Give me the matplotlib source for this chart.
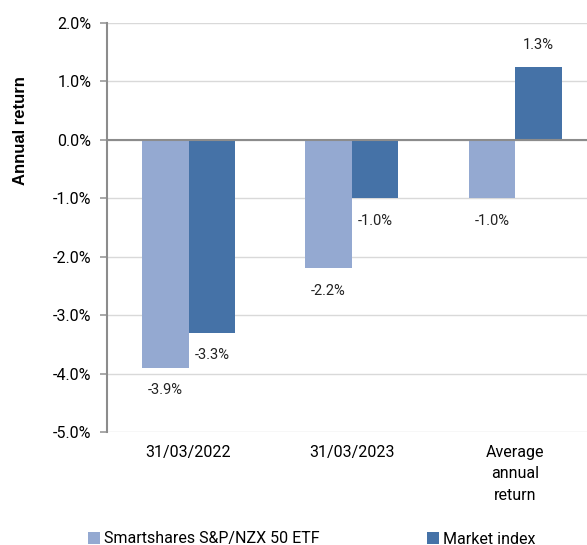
import matplotlib
matplotlib.use('Agg')
import matplotlib.pyplot as plt
import numpy as np

plt.rcParams['font.family'] = ['Roboto', 'DejaVu Sans']

categories = ['31/03/2022', '31/03/2023', 'Average\nannual\nreturn']
etf_values = [-3.9, -2.2, -1.0]
index_values = [-3.3, -1.0, 1.25]
etf_labels = ['-3.9%', '-2.2%', '-1.0%']
index_labels = ['-3.3%', '-1.0%', '1.3%']
series_names = ['Smartshares S&P/NZX 50 ETF', 'Market index']

light = '#94A9D1'
dark = '#4572A7'

fig = plt.figure(figsize=(5.87, 5.45), dpi=100)
ax = fig.add_axes([0.182, 0.207, 0.835, 0.751])

x = np.arange(len(categories))
w = 0.285
b1 = ax.bar(x - w / 2, etf_values, w, color=light, label=series_names[0], zorder=3)
b2 = ax.bar(x + w / 2, index_values, w, color=dark, label=series_names[1], zorder=3)

# labels - below the bar end for negatives, above for positives
for bars, labs in ((b1, etf_labels), (b2, index_labels)):
    for bar, lab in zip(bars, labs):
        v = bar.get_height()
        cx = bar.get_x() + bar.get_width() / 2
        off = -16 if v < 0 else 16
        ax.annotate(lab, (cx, v), xytext=(0, off), textcoords='offset points',
                    ha='center', va='center', fontsize=10.5, color='#222222')

ax.set_xlim(-0.5, 2.5)
ax.set_ylim(-5, 2)
yt = np.arange(-5, 2.01, 1)
ax.set_yticks(yt)
ax.set_yticklabels([f'{v:.1f}%' for v in yt], fontsize=11.5)
ax.set_xticks(x)
ax.set_xticklabels(categories, fontsize=11.5, linespacing=1.55)
ax.tick_params(axis='x', length=0, pad=9)
ax.tick_params(axis='y', length=5, color='#999999', width=1.2, pad=6)

ax.grid(axis='y', color='#D9D9D9', linewidth=1, zorder=0)
ax.axhline(0, color='#8C8C8C', linewidth=1.5, zorder=4)
for s in ('top', 'right', 'bottom'):
    ax.spines[s].set_visible(False)
ax.spines['left'].set_color('#8C8C8C')
ax.spines['left'].set_linewidth(1.5)

# y label sits level with the zero line, not the axis middle
fig.text(21 / 587, 1 - 131 / 545, 'Annual return', rotation=90, ha='center', va='center',
         fontsize=12, fontweight='bold', family=['Liberation Sans', 'DejaVu Sans'])

# two legend entries placed separately, as in the original
for h, xpos in ((b1, 88), (b2, 427)):
    fig.legend(handles=[h], loc='center left', bbox_to_anchor=(xpos / 587, 1 - 539 / 545),
               frameon=False, fontsize=11.5, handlelength=0.75, handleheight=0.75,
               handletextpad=0.25, borderpad=0, borderaxespad=0)

plt.savefig('out.png', dpi=100)
plt.close()
